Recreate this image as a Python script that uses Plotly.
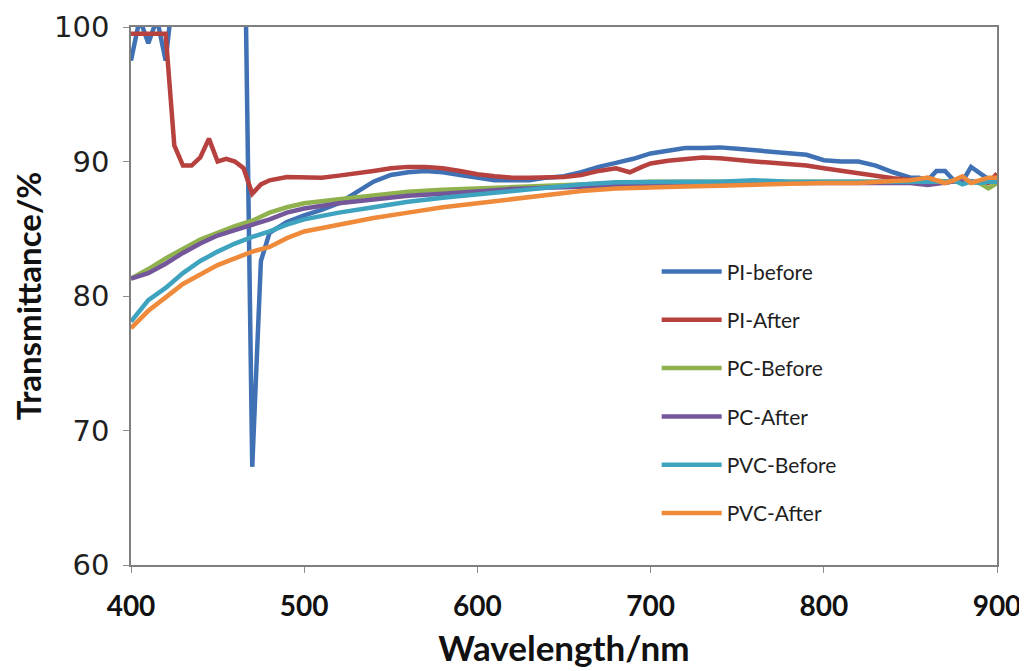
import plotly.graph_objects as go

# Wavelength grids (nm)
wl_pi_before = [400, 405, 410, 415, 420, 423, 430, 440, 450, 460, 466, 470, 475, 480, 490, 500,
                510, 520, 530, 540, 550, 560, 570, 580, 590, 600, 610, 620, 630, 640, 650, 660,
                670, 680, 690, 700, 710, 720, 730, 740, 750, 760, 770, 780, 790, 800, 810, 820,
                830, 840, 850, 855, 860, 865, 870, 875, 880, 885, 890, 895, 900]
pi_before = [97.5, 100.6, 98.8, 100.6, 97.5, 101.0, 104.0, 104.0, 104.0, 104.0, 104.0, 67.3, 82.6, 84.7,
             85.5, 86.0, 86.4, 86.9, 87.7, 88.5, 89.0, 89.2, 89.3, 89.2, 89.0, 88.8, 88.6, 88.6,
             88.6, 88.8, 88.9, 89.2, 89.6, 89.9, 90.2, 90.6, 90.8, 91.0, 91.0, 91.05, 90.95,
             90.85, 90.75, 90.6, 90.5, 90.1, 90.0, 90.0, 89.7, 89.2, 88.8, 88.8, 88.6, 89.3,
             89.3, 88.6, 88.5, 89.6, 89.1, 88.7, 88.6]

wl_pi_after = [400, 405, 410, 415, 420, 425, 430, 435, 440, 445, 450, 455, 460, 465, 470, 475,
               480, 490, 500, 510, 520, 530, 540, 550, 560, 570, 580, 590, 600, 610, 620, 630,
               640, 650, 660, 670, 680, 688, 695, 700, 710, 720, 730, 740, 750, 760, 770, 780,
               790, 800, 810, 820, 830, 840, 850, 860, 870, 880, 885, 890, 895, 900]
pi_after = [99.5, 99.5, 99.5, 99.5, 99.5, 91.2, 89.7, 89.7, 90.3, 91.7, 90.0, 90.2, 90.0, 89.5,
            87.6, 88.3, 88.6, 88.85, 88.8, 88.8, 88.95, 89.1, 89.3, 89.5, 89.6, 89.6, 89.5,
            89.3, 89.05, 88.9, 88.8, 88.8, 88.8, 88.85, 89.0, 89.3, 89.5, 89.2, 89.6, 89.85,
            90.05, 90.2, 90.3, 90.25, 90.1, 90.0, 89.9, 89.8, 89.7, 89.5, 89.3, 89.1, 88.9,
            88.75, 88.65, 88.55, 88.4, 88.7, 88.5, 88.4, 88.4, 89.1]

wl_grid = [400, 410, 420, 430, 440, 450, 460, 470, 480, 490, 500, 520, 540, 560, 580, 600, 620,
           640, 660, 680, 700, 720, 740, 760, 780, 800, 820, 840, 850, 860, 870, 875, 880, 885,
           890, 895, 900]
pc_before = [81.3, 82.0, 82.8, 83.5, 84.2, 84.7, 85.2, 85.6, 86.2, 86.6, 86.9, 87.2, 87.5, 87.75,
             87.9, 88.0, 88.1, 88.2, 88.35, 88.45, 88.5, 88.5, 88.5, 88.5, 88.5, 88.5, 88.5,
             88.5, 88.5, 88.6, 88.5, 88.5, 88.6, 88.5, 88.4, 88.0, 88.4]
pc_after = [81.3, 81.7, 82.4, 83.2, 83.9, 84.5, 84.9, 85.3, 85.7, 86.2, 86.5, 86.9, 87.2, 87.45,
            87.6, 87.8, 87.95, 88.05, 88.1, 88.2, 88.3, 88.3, 88.35, 88.35, 88.4, 88.4, 88.4,
            88.4, 88.4, 88.25, 88.4, 88.5, 88.6, 88.5, 88.5, 88.6, 88.5]
pvc_before = [78.1, 79.7, 80.6, 81.7, 82.6, 83.3, 83.9, 84.4, 84.8, 85.3, 85.7, 86.2, 86.6, 87.0,
              87.3, 87.55, 87.8, 88.05, 88.3, 88.45, 88.5, 88.5, 88.5, 88.6, 88.5, 88.5, 88.5,
              88.5, 88.5, 88.5, 88.5, 88.6, 88.3, 88.5, 88.4, 88.5, 88.5]
pvc_after = [77.6, 78.9, 79.9, 80.9, 81.6, 82.3, 82.8, 83.3, 83.65, 84.3, 84.8, 85.3, 85.8, 86.2,
             86.6, 86.9, 87.2, 87.5, 87.8, 88.0, 88.1, 88.15, 88.2, 88.3, 88.35, 88.4, 88.4,
             88.55, 88.6, 88.8, 88.4, 88.6, 88.9, 88.4, 88.6, 88.8, 88.8]

series = [
    ("PI-before", wl_pi_before, pi_before, "#3f71b4"),
    ("PI-After", wl_pi_after, pi_after, "#b7413e"),
    ("PC-Before", wl_grid, pc_before, "#8fb24f"),
    ("PC-After", wl_grid, pc_after, "#74569a"),
    ("PVC-Before", wl_grid, pvc_before, "#3da3be"),
    ("PVC-After", wl_grid, pvc_after, "#ee8a3a"),
]

x_ticks = [400, 500, 600, 700, 800, 900]
y_ticks = [60, 70, 80, 90, 100]

fig = go.Figure()
for i, (name, xs, ys, col) in enumerate(series):
    fig.add_trace(go.Scatter(x=xs, y=ys, mode="lines", name=name, legendgroup=f"g{i}",
                             line=dict(color=col, width=4.5)))

fig.update_layout(
    width=1027, height=671,
    paper_bgcolor="white", plot_bgcolor="white",
    margin=dict(l=123, r=38, t=19, b=114, autoexpand=False),
    legend=dict(x=0.607, y=0.583, xanchor="left", yanchor="top",
                font=dict(family="Lato, Noto Sans", size=21, color="#1f1f1f"),
                tracegroupgap=18, itemwidth=60, bgcolor="rgba(0,0,0,0)"),
    showlegend=True,
)
fig.update_xaxes(range=[400, 900], tickvals=x_ticks, ticks="outside", ticklen=6,
                 tickcolor="#8c8c8c", showline=True, linecolor="#7f7f7f", linewidth=1.5,
                 mirror=True, showgrid=False, zeroline=False, automargin=False,
                 ticklabelstandoff=10,
                 tickfont=dict(family="Lato, Noto Sans", size=28, color="#111111", weight="bold"),
                 title=dict(text="<b>Wavelength/nm</b>",
                            font=dict(family="Lato, Noto Sans", size=35, color="#111111"),
                            standoff=15))
fig.update_yaxes(range=[60, 100], tickvals=y_ticks, ticks="outside", ticklen=6,
                 tickcolor="#8c8c8c", showline=True, linecolor="#7f7f7f", linewidth=1.5,
                 mirror=True, showgrid=False, zeroline=False, automargin=False,
                 ticklabelstandoff=8,
                 tickfont=dict(family="DejaVu Sans", size=29, color="#1f1f1f"),
                 title=dict(text="<b>Transmittance/%</b>",
                            font=dict(family="Lato, Noto Sans", size=33, color="#111111"),
                            standoff=14))

fig.write_html("out.html")
